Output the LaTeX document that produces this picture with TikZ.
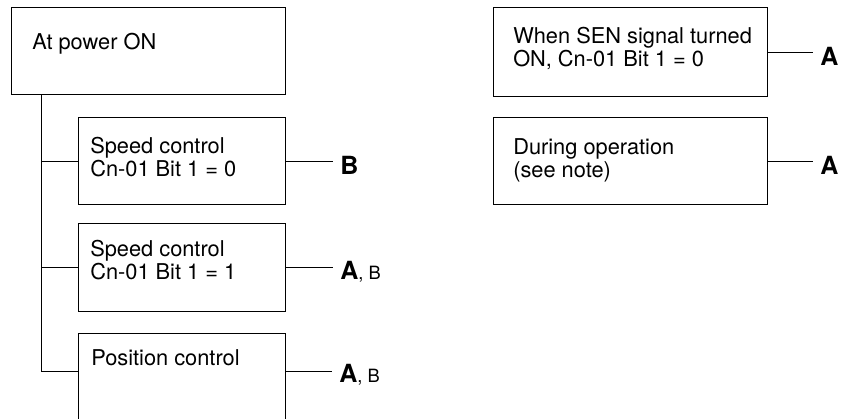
\documentclass[tikz,border=0pt]{standalone}
\usepackage{fontspec}
\setmainfont{TeX Gyre Heros}
\usetikzlibrary{calc}
\tikzset{
  box/.style={draw, line width=0.7pt, anchor=north west, inner sep=0pt},
  boxtxt/.style={anchor=north west, align=left, inner sep=0pt, font=\fontsize{15.5}{16.5}\selectfont},
  lab/.style={anchor=west, inner xsep=5pt, inner ysep=0pt, font=\fontsize{17.8}{19}\selectfont\bfseries},
  wire/.style={line width=0.7pt}
}
\newcommand{\minorlab}[1]{{\mdseries\fontsize{13}{14}\selectfont #1}}

\begin{document}
\begin{tikzpicture}[x=0.025cm, y=-0.025cm]
    \useasboundingbox (0,0) rectangle (843,419);
    % left column
    \node[box, minimum width=6.85cm, minimum height=2.175cm] (pwr) at (11,7) {};
    \node[box, minimum width=5.175cm, minimum height=2.175cm] (spd0) at (78,117) {};
    \node[box, minimum width=5.175cm, minimum height=2.2cm] (spd1) at (78,223) {};
    \node[box, minimum width=5.175cm, minimum height=2.2cm] (pos) at (78,333) {};
    \node[boxtxt] (pwrtxt) at ($(pwr.north west)+(21,26)$) {At power ON};
    \node[boxtxt] (spd0txt) at ($(spd0.north west)+(12,20)$) {Speed control\\Cn-01 Bit 1 = 0};
    \node[boxtxt] (spd1txt) at ($(spd1.north west)+(12,17)$) {Speed control\\Cn-01 Bit 1 = 1};
    \node[boxtxt] (postxt) at ($(pos.north west)+(13,16)$) {Position control};
    % right column
    \node[box, minimum width=6.85cm, minimum height=2.225cm] (sen) at (493,7) {};
    \node[box, minimum width=6.85cm, minimum height=2.175cm] (oper) at (493,117) {};
    \node[boxtxt] (sentxt) at ($(sen.north west)+(20,20)$) {When SEN signal turned\\ON, Cn-01 Bit 1 = 0};
    \node[boxtxt] (opertxt) at ($(oper.north west)+(20,21)$) {During operation\\(see note)};
    % results
    \node[lab] (labB) at ($(spd0.east)+(47,4)$) {B};
    \node[lab] (labAB) at ($(spd1.east)+(47,4)$) {A\minorlab{, B}};
    \node[lab] (labposAB) at ($(pos.north west)+(254,42)$) {A\minorlab{, B}};
    \node[lab] (labsen) at ($(sen.east)+(45,4)$) {A};
    \node[lab] (laboper) at ($(oper.east)+(45,4)$) {A};
    % tree
    \coordinate (trunk) at ($(pwr.south west)+(30.7,0)$);
    \coordinate (posin) at ($(pos.north west)+(0,38)$);
    \coordinate (posout) at ($(pos.north east)+(0,38)$);
    \draw[wire] (trunk) |- (posin);
    \draw[wire] (trunk |- spd0.west) -- (spd0.west);
    \draw[wire] (trunk |- spd1.west) -- (spd1.west);
    \draw[wire] (spd0.east) -- (spd0.east -| labB.west);
    \draw[wire] (spd1.east) -- (spd1.east -| labAB.west);
    \draw[wire] (posout) -- (posout -| labposAB.west);
    \draw[wire] (sen.east) -- (sen.east -| labsen.west);
    \draw[wire] (oper.east) -- (oper.east -| laboper.west);
\end{tikzpicture}
\end{document}
